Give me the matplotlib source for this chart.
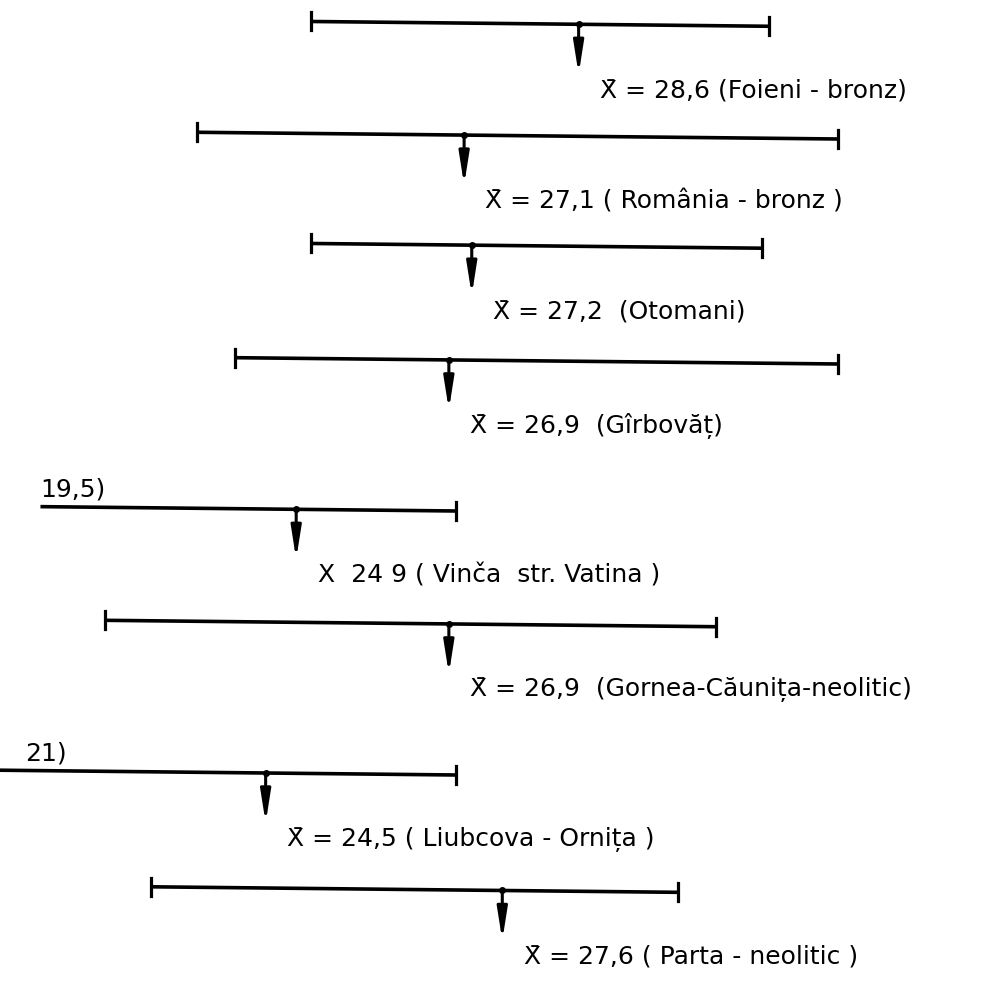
import numpy as np
import matplotlib.pyplot as plt

# date citite de pe desen (valori ale lui X)
situri = ["Foieni - bronz", "România - bronz", "Otomani", "Gîrbovăț",
          "Vinča  str. Vatina", "Gornea-Căunița-neolitic", "Liubcova - Ornița",
          "Parta - neolitic"]
medii = [28.6, 27.1, 27.2, 26.9, 24.9, 26.9, 24.5, 27.6]
minime = [25.1, 23.6, 25.1, 24.1, 19.5, 22.4, 21.0, 23.0]
maxime = [31.1, 32.0, 31.0, 32.0, 27.0, 30.4, 27.0, 29.9]
etichete = ["X\u0304 = 28,6 (Foieni - bronz)",
            "X\u0304 = 27,1 ( România - bronz )",
            "X\u0304 = 27,2  (Otomani)",
            "X\u0304 = 26,9  (Gîrbovăț)",
            "X  24 9 ( Vinča  str. Vatina )",
            "X\u0304 = 26,9  (Gornea-Căunița-neolitic)",
            "X\u0304 = 24,5 ( Liubcova - Ornița )",
            "X\u0304 = 27,6 ( Parta - neolitic )"]

# asezare (pixeli pe verticala)
rand_y = [23, 135, 245, 360, 511, 624, 775, 890]
x_stanga, x_dreapta = 21.02, 34.12
taiere = 21.55   # unde incepe linia intrerupta

plt.rcParams['font.family'] = ['DejaVu Sans']
fig = plt.figure(figsize=(10, 9.82), dpi=100)
ax = fig.add_axes([0, 0, 1, 1])
ax.set_xlim(x_stanga, x_dreapta)
ax.set_ylim(982, 0)
ax.axis("off")

panta = 0.8  # desenul e usor inclinat

def yl(i, v):
    return rand_y[i] + panta * (v - 27)

for i in range(len(situri)):
    a = minime[i] if minime[i] >= 21 else taiere
    b = maxime[i]
    ax.plot([a, b], [yl(i, a), yl(i, b)], color="k", lw=2.6, solid_capstyle="butt")
    # capete
    if minime[i] >= x_stanga:
        ax.plot([a, a], [yl(i, a) - 9, yl(i, a) + 9], color="k", lw=2.3)
    ax.plot([b, b], [yl(i, b) - 9, yl(i, b) + 9], color="k", lw=2.3)
    # valoare in afara desenului
    if minime[i] < 21.5:
        txt = ("%g)" % minime[i]).replace(".", ",")
        ax.text(max(a, 21.35), yl(i, a) - 5, txt, fontsize=18, ha="left", va="bottom")
    # media
    m = medii[i]
    ym = yl(i, m)
    ax.plot(m, ym, "o", color="k", ms=4)
    ax.annotate("", xy=(m, ym + 50), xytext=(m, ym),
                arrowprops=dict(arrowstyle="-|>,head_length=1.9,head_width=0.3",
                                color="k", lw=2.2, shrinkA=0, shrinkB=0),
                )
    ax.text(m + 0.28, ym + 66, etichete[i], fontsize=18, ha="left", va="center")

plt.savefig("out.png", dpi=100, facecolor="white")
